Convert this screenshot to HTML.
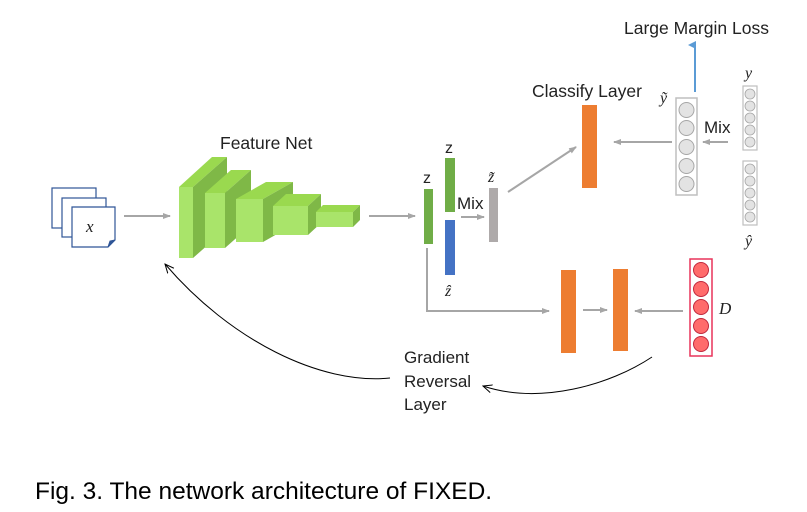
<!DOCTYPE html>
<html><head><meta charset="utf-8"><style>
html,body{margin:0;padding:0;background:#fff;width:807px;height:512px;overflow:hidden}
svg{display:block}
text{font-family:"Liberation Sans",sans-serif;fill:#222}
.m{font-family:"Liberation Serif",serif;font-style:italic}
</style></head><body>
<svg width="807" height="512" viewBox="0 0 807 512">
<defs>
<marker id="g" markerWidth="8" markerHeight="8" refX="7" refY="4" orient="auto" markerUnits="userSpaceOnUse"><path d="M0,1 L8,4 L0,7 z" fill="#a6a6a6"/></marker>
<marker id="b" markerWidth="8" markerHeight="8" refX="4" refY="7" orient="auto" markerUnits="userSpaceOnUse"><path d="M0,8 L4,0 L8,8 z" fill="#5b9bd5"/></marker>
<marker id="k" markerWidth="10" markerHeight="10" refX="9" refY="5" orient="auto" markerUnits="userSpaceOnUse"><path d="M0,1 L9,5 L0,9" fill="none" stroke="#000" stroke-width="1"/></marker>
</defs>
<rect x="52" y="188" width="44" height="40" fill="#fff" stroke="#2f5597" stroke-width="1.2"/>
<rect x="62" y="198" width="44" height="39" fill="#fff" stroke="#2f5597" stroke-width="1.2"/>
<path d="M72,207 H115 V240 L108,247 H72 Z" fill="#fff" stroke="#2f5597" stroke-width="1.2"/>
<path d="M108,247 L110,241 L115,240" fill="#2f5597" stroke="#2f5597"/>
<text x="86" y="232" class="m" font-size="17">x</text>
<line x1="124" y1="216" x2="170" y2="216" stroke="#a6a6a6" stroke-width="2" marker-end="url(#g)"/>
<g>
<polygon points="179,187 212,157 227,157 193,187" fill="#9ad94f"/>
<polygon points="193,187 227,157 227,228 193,258" fill="#7fb847"/>
<rect x="179" y="187" width="14" height="71" fill="#a9e46a"/>
<polygon points="205,193 231,170 251,170 225,193" fill="#9ad94f"/>
<polygon points="225,193 251,170 251,225 225,248" fill="#7fb847"/>
<rect x="205" y="193" width="20" height="55" fill="#a9e46a"/>
<polygon points="236,199 266,182 293,182 263,199" fill="#9ad94f"/>
<polygon points="263,199 293,182 293,225 263,242" fill="#7fb847"/>
<rect x="236" y="199" width="27" height="43" fill="#a9e46a"/>
<polygon points="273,206 286,194 321,194 308,206" fill="#9ad94f"/>
<polygon points="308,206 321,194 321,223 308,235" fill="#7fb847"/>
<rect x="273" y="206" width="35" height="29" fill="#a9e46a"/>
<polygon points="316,212 323,205 360,205 353,212" fill="#9ad94f"/>
<polygon points="353,212 360,205 360,220 353,227" fill="#7fb847"/>
<rect x="316" y="212" width="37" height="15" fill="#a9e46a"/>
</g>
<text x="220" y="149" font-size="17.5">Feature Net</text>
<line x1="369" y1="216" x2="415" y2="216" stroke="#a6a6a6" stroke-width="2" marker-end="url(#g)"/>
<rect x="424" y="189" width="9" height="55" fill="#70ad47"/>
<text x="423" y="183" font-size="16" font-family="Liberation Serif">z</text>
<rect x="445" y="158" width="10" height="54" fill="#70ad47"/>
<text x="445" y="153" font-size="16" font-family="Liberation Serif">z</text>
<rect x="445" y="220" width="10" height="55" fill="#4472c4"/>
<text x="445" y="296" class="m" font-size="16">ẑ</text>
<text x="457" y="209" font-size="17">Mix</text>
<line x1="461" y1="217" x2="484" y2="217" stroke="#a6a6a6" stroke-width="2" marker-end="url(#g)"/>
<rect x="489" y="188" width="9" height="54" fill="#aeaaaa"/>
<text x="488" y="182" class="m" font-size="16">z̃</text>
<line x1="508" y1="192" x2="576" y2="147" stroke="#a6a6a6" stroke-width="2" marker-end="url(#g)"/>
<rect x="582" y="105" width="15" height="83" fill="#ed7d31"/>
<text x="532" y="97" font-size="17.5">Classify Layer</text>
<line x1="672" y1="142" x2="614" y2="142" stroke="#a6a6a6" stroke-width="2" marker-end="url(#g)"/>
<rect x="676" y="98" width="21" height="97" fill="#fff" stroke="#bfbfbf" stroke-width="1.5"/>
<g fill="#e3e3e3" stroke="#a6a6a6" stroke-width="1">
<circle cx="686.5" cy="110" r="7.5"/><circle cx="686.5" cy="128" r="7.5"/><circle cx="686.5" cy="147" r="7.5"/><circle cx="686.5" cy="166" r="7.5"/><circle cx="686.5" cy="184" r="7.5"/>
</g>
<text x="660" y="103" class="m" font-size="16">ỹ</text>
<line x1="695" y1="92" x2="695" y2="45" stroke="#5b9bd5" stroke-width="2" marker-end="url(#b)"/>
<text x="624" y="34" font-size="17.5">Large Margin Loss</text>
<text x="704" y="133" font-size="17">Mix</text>
<line x1="728" y1="142" x2="703" y2="142" stroke="#a6a6a6" stroke-width="2" marker-end="url(#g)"/>
<rect x="743" y="86" width="14" height="64" fill="#fff" stroke="#bfbfbf" stroke-width="1.2"/>
<g fill="#e3e3e3" stroke="#a6a6a6" stroke-width="0.8">
<circle cx="750" cy="94" r="5"/><circle cx="750" cy="106" r="5"/><circle cx="750" cy="118" r="5"/><circle cx="750" cy="130" r="5"/><circle cx="750" cy="142" r="5"/>
</g>
<rect x="743" y="161" width="14" height="64" fill="#fff" stroke="#bfbfbf" stroke-width="1.2"/>
<g fill="#e3e3e3" stroke="#a6a6a6" stroke-width="0.8">
<circle cx="750" cy="169" r="5"/><circle cx="750" cy="181" r="5"/><circle cx="750" cy="193" r="5"/><circle cx="750" cy="205" r="5"/><circle cx="750" cy="217" r="5"/>
</g>
<text x="745" y="78" class="m" font-size="16">y</text>
<text x="745" y="246" class="m" font-size="16">ŷ</text>
<polyline points="427,248 427,311 549,311" fill="none" stroke="#a6a6a6" stroke-width="2" marker-end="url(#g)"/>
<rect x="561" y="270" width="15" height="83" fill="#ed7d31"/>
<rect x="613" y="269" width="15" height="82" fill="#ed7d31"/>
<line x1="583" y1="310" x2="607" y2="310" stroke="#a6a6a6" stroke-width="2" marker-end="url(#g)"/>
<line x1="683" y1="311" x2="635" y2="311" stroke="#a6a6a6" stroke-width="2" marker-end="url(#g)"/>
<rect x="690" y="259" width="22" height="97" fill="#fff" stroke="#e8335a" stroke-width="1.5"/>
<g fill="#ff6b6b" stroke="#c0283d" stroke-width="1">
<circle cx="701" cy="270" r="7.5"/><circle cx="701" cy="289" r="7.5"/><circle cx="701" cy="307" r="7.5"/><circle cx="701" cy="326" r="7.5"/><circle cx="701" cy="344" r="7.5"/>
</g>
<text x="719" y="314" class="m" font-size="17">D</text>
<path d="M390,378 C320,385 230,340 165,264" fill="none" stroke="#000" stroke-width="1" marker-end="url(#k)"/>
<path d="M652,357 C610,385 540,405 483,386" fill="none" stroke="#000" stroke-width="1" marker-end="url(#k)"/>
<text x="404" y="363" font-size="17">Gradient</text>
<text x="404" y="387" font-size="17">Reversal</text>
<text x="404" y="410" font-size="17">Layer</text>
<text x="35" y="499" font-size="24.5" style="fill:#000">Fig. 3. The network architecture of FIXED.</text>
</svg>
</body></html>
